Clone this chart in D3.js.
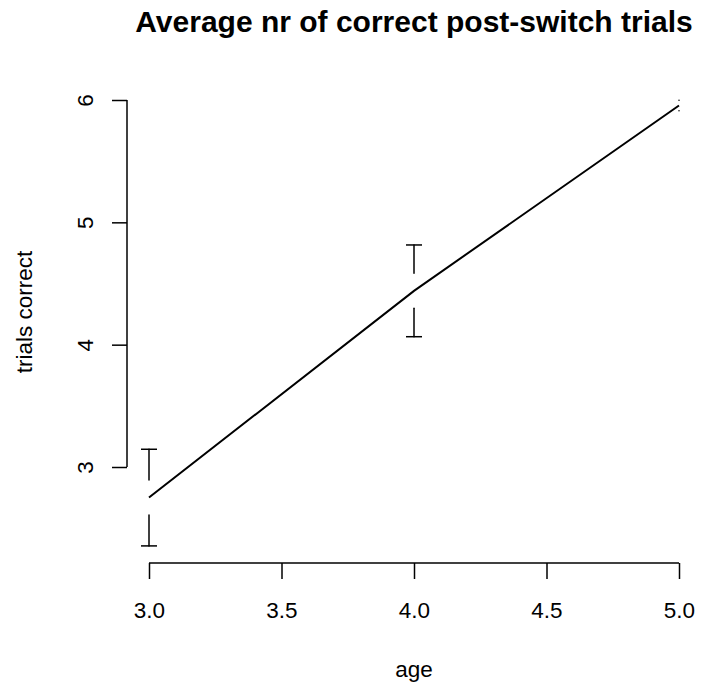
<!DOCTYPE html>
<html>
<head>
<meta charset="utf-8">
<script src="https://cdn.jsdelivr.net/npm/d3@7"></script>
<style>
  html, body { margin: 0; padding: 0; background: #fff; }
  svg { display: block; font-family: "Liberation Sans", Arial, Helvetica, sans-serif; }
</style>
</head>
<body>
<svg id="chart" width="701" height="686"></svg>
<script>
// Mean number of correct post-switch trials per age group, with standard errors
const ages = [3, 4, 5];
const meanCorrect = [2.75, 4.44, 5.955];
const seCorrect = [0.395, 0.375, 0.042];
const xTicks = [3.0, 3.5, 4.0, 4.5, 5.0];
const yTicks = [3, 4, 5, 6];

const svg = d3.select("#chart");

const x = d3.scaleLinear().domain([3, 5]).range([149, 679]);
const y = d3.scaleLinear().domain([3, 6]).range([467, 100]);

const ink = "#000";

// Title
svg.append("text")
  .attr("x", 414).attr("y", 32)
  .attr("text-anchor", "middle")
  .attr("font-size", 30).attr("font-weight", "bold")
  .attr("fill", ink)
  .text("Average nr of correct post-switch trials");

// X axis (R style: line spans first to last tick, labels below)
const xAxis = d3.axisBottom(x)
  .tickValues(xTicks)
  .tickSize(16)
  .tickPadding(23)
  .tickFormat(d3.format(".1f"));
const gx = svg.append("g").attr("transform", "translate(0,563)").call(xAxis);
gx.select(".domain").attr("d", `M${x(xTicks[0])},0H${x(xTicks[xTicks.length - 1])}`);

// Y axis with labels rotated parallel to the axis
const yAxis = d3.axisLeft(y)
  .tickValues(yTicks)
  .tickSize(15)
  .tickFormat(d3.format("d"));
const gy = svg.append("g").attr("transform", "translate(127,0)").call(yAxis);
gy.select(".domain").attr("d", `M0,${y(yTicks[0])}V${y(yTicks[yTicks.length - 1])}`);
gy.selectAll(".tick text")
  .attr("x", null).attr("dy", null)
  .attr("text-anchor", "middle")
  .attr("transform", "translate(-34,0) rotate(-90)");

[gx, gy].forEach(g => {
  g.selectAll(".domain, .tick line").attr("stroke", ink).attr("stroke-width", 1.5);
  g.selectAll(".tick text").attr("fill", ink).attr("font-size", 22.5)
    .attr("font-family", "'Liberation Sans', Arial, Helvetica, sans-serif");
});

// Axis titles
svg.append("text")
  .attr("x", 414).attr("y", 677)
  .attr("text-anchor", "middle")
  .attr("font-size", 22.5).attr("fill", ink)
  .text("age");
svg.append("text")
  .attr("transform", "translate(32,312) rotate(-90)")
  .attr("text-anchor", "middle")
  .attr("font-size", 22.5).attr("fill", ink)
  .text("trials correct");

// Mean line
const data = ages.map((a, i) => ({ age: a, mean: meanCorrect[i], se: seCorrect[i] }));
svg.append("path")
  .datum(data)
  .attr("fill", "none")
  .attr("stroke", ink)
  .attr("stroke-width", 2)
  .attr("d", d3.line().x(d => x(d.age)).y(d => y(d.mean)));

// Error bars with a gap around each mean; bars shorter than the gap collapse to a dot
const gap = 17.5;
const cap = 8;
const eb = svg.append("g").attr("stroke", ink).attr("stroke-width", 1.5).attr("stroke-linecap", "round");
data.forEach(d => {
  const cx = x(d.age);
  const ym = y(d.mean);
  const yHi = y(d.mean + d.se);
  const yLo = y(d.mean - d.se);
  const hiStart = Math.max(ym - gap, yHi);
  const loStart = Math.min(ym + gap, yLo);
  eb.append("line").attr("x1", cx).attr("x2", cx).attr("y1", hiStart).attr("y2", yHi);
  eb.append("line").attr("x1", cx).attr("x2", cx).attr("y1", loStart).attr("y2", yLo);
  if (hiStart > yHi) {
    eb.append("line").attr("x1", cx - cap).attr("x2", cx + cap).attr("y1", yHi).attr("y2", yHi)
      .attr("stroke-linecap", "butt");
  }
  if (loStart < yLo) {
    eb.append("line").attr("x1", cx - cap).attr("x2", cx + cap).attr("y1", yLo).attr("y2", yLo)
      .attr("stroke-linecap", "butt");
  }
});
</script>
</body>
</html>
